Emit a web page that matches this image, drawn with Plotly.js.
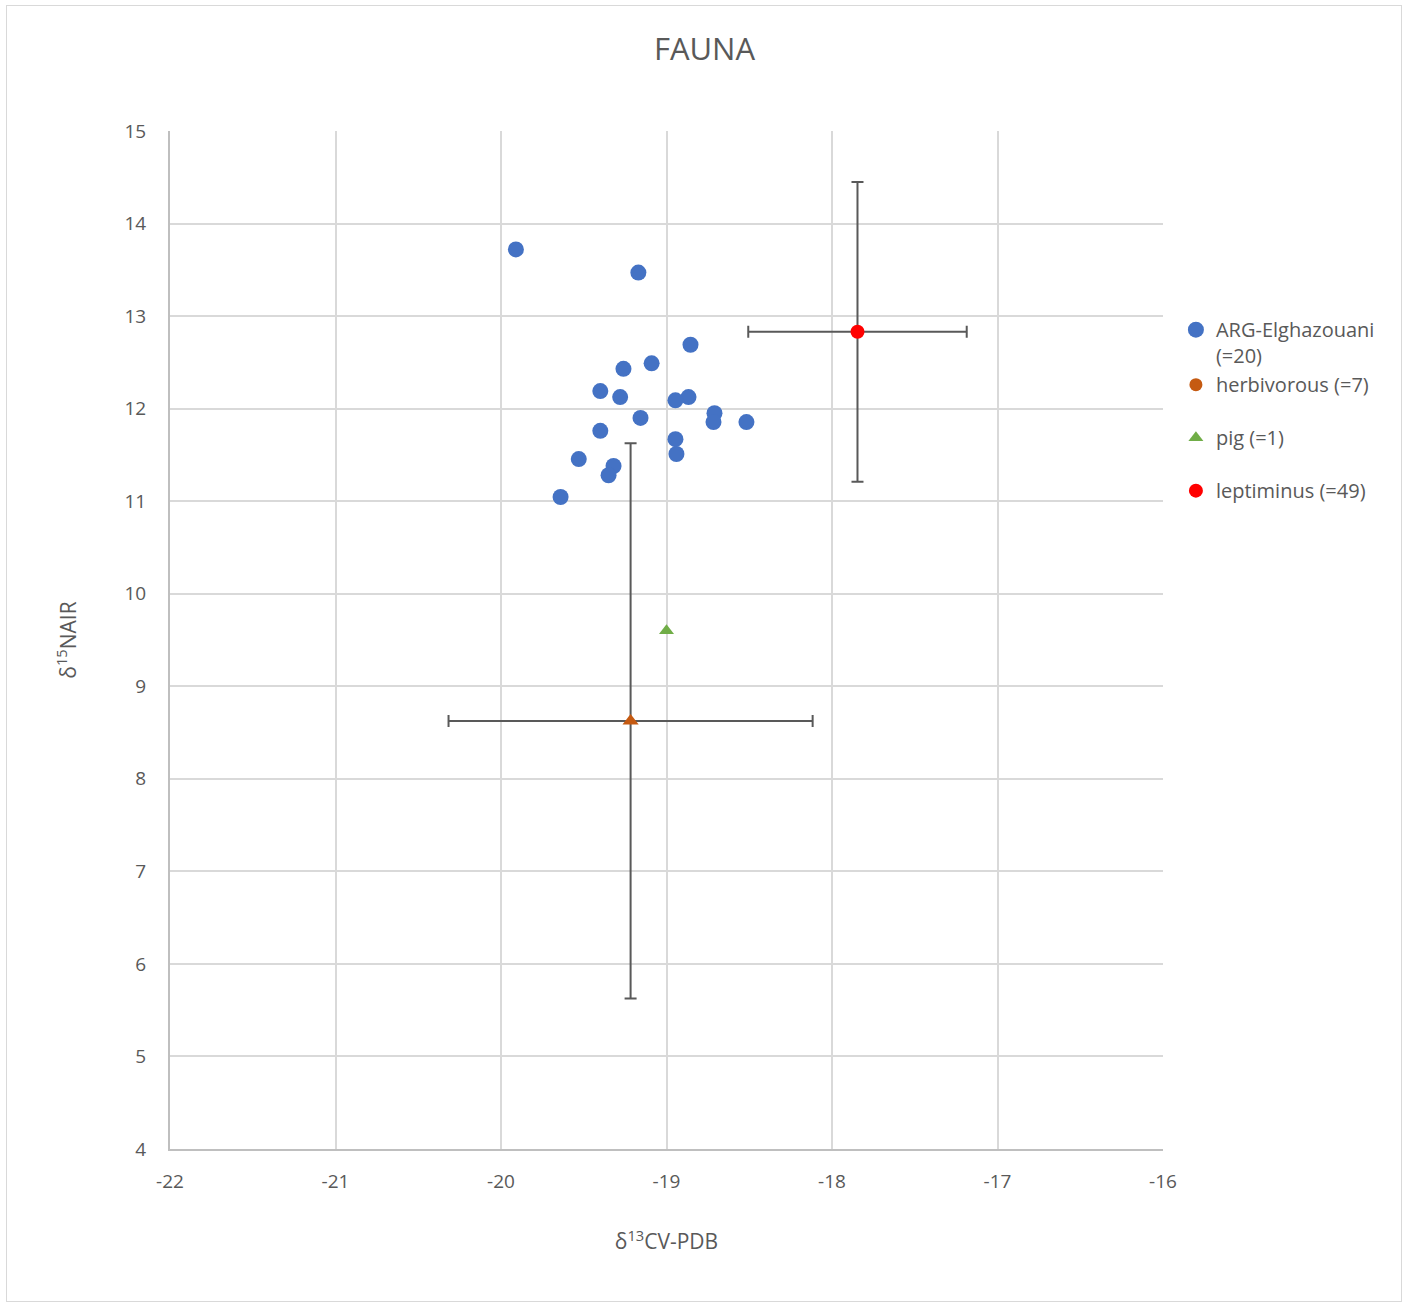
<!DOCTYPE html>
<html>
<head>
<meta charset="utf-8">
<script src="https://cdn.plot.ly/plotly-3.0.1.min.js"></script>
<style>
html,body{margin:0;padding:0;background:#fff;}
#wrap{position:relative;width:1409px;height:1305px;}
#chart{position:absolute;left:0;top:0;width:1409px;height:1305px;}
#frame{position:absolute;left:6px;top:5px;width:1396px;height:1297px;border:1.5px solid #d9d9d9;pointer-events:none;box-sizing:border-box;}
</style>
</head>
<body>
<div id="wrap"><div id="chart"></div><div id="frame"></div></div>
<script>
// ARG-Elghazouani (n=20)
const argX = [-19.91,-19.17,-18.855,-19.09,-19.26,-19.40,-19.28,-18.867,-18.946,-18.71,-18.716,-18.517,-19.157,-19.40,-18.946,-18.94,-19.53,-19.32,-19.35,-19.64];
const argY = [13.72,13.47,12.69,12.49,12.43,12.19,12.125,12.125,12.09,11.95,11.855,11.855,11.90,11.76,11.67,11.51,11.455,11.38,11.28,11.045];
// herbivorous (n=7): mean and SD
const herbX = [-19.217];
const herbY = [8.625];
const herbSDx = [1.10];
const herbSDy = [3.0];
// pig (n=1)
const pigX = [-19.0];
const pigY = [9.60];
// leptiminus (n=49): mean and SD
const leptX = [-17.846];
const leptY = [12.83];
const leptSDx = [0.66];
const leptSDy = [1.62];

const names = ['ARG-Elghazouani<br>(=20)','herbivorous (=7)','pig (=1)','leptiminus (=49)'];
const xTicks = [-22,-21,-20,-19,-18,-17,-16];
const yTicks = [4,5,6,7,8,9,10,11,12,13,14,15];

const ebColor = '#595959';
const traces = [
  {x:argX,y:argY,type:'scatter',mode:'markers',name:names[0],legendgroup:'a',
   marker:{color:'#4472c4',size:16,symbol:'circle'}},
  {x:herbX,y:herbY,type:'scatter',mode:'markers',name:names[1],showlegend:false,legendgroup:'a',
   marker:{color:'#c55a11',size:14,symbol:'triangle-up'},
   error_x:{type:'data',array:herbSDx,visible:true,color:ebColor,thickness:2,width:6},
   error_y:{type:'data',array:herbSDy,visible:true,color:ebColor,thickness:2,width:6}},
  {x:[null],y:[null],type:'scatter',mode:'markers',name:names[1],legendgroup:'a',
   marker:{color:'#c55a11',size:13,symbol:'circle'}},
  {x:pigX,y:pigY,type:'scatter',mode:'markers',name:names[2],legendgroup:'b',
   marker:{color:'#70ad47',size:13,symbol:'triangle-up'}},
  {x:leptX,y:leptY,type:'scatter',mode:'markers',name:names[3],legendgroup:'c',
   marker:{color:'#ff0000',size:14,symbol:'circle'},
   error_x:{type:'data',array:leptSDx,visible:true,color:ebColor,thickness:2,width:6},
   error_y:{type:'data',array:leptSDy,visible:true,color:ebColor,thickness:2,width:6}}
];

const layout = {
  width:1409,height:1305,
  margin:{l:170,r:246,t:131,b:156},
  paper_bgcolor:'#fff',plot_bgcolor:'#fff',
  font:{family:'Open Sans, Liberation Sans, sans-serif',color:'#595959',size:18},
  title:{text:'FAUNA',font:{size:31,color:'#595959'},x:0.5,xanchor:'center',y:0.962,yanchor:'middle'},
  xaxis:{range:[-22,-16],tickvals:xTicks,ticktext:xTicks.map(String),
    showgrid:true,gridcolor:'#d9d9d9',gridwidth:2,zeroline:false,
    showline:true,linecolor:'#bfbfbf',linewidth:2,ticks:'',ticklabelstandoff:14,
    tickfont:{size:19,color:'#595959'},
    title:{text:'δ<sup>13</sup>CV-PDB',font:{size:21,color:'#595959'},standoff:42}},
  yaxis:{range:[4,15],tickvals:yTicks,ticktext:yTicks.map(String),
    showgrid:true,gridcolor:'#d9d9d9',gridwidth:2,zeroline:false,
    showline:true,linecolor:'#bfbfbf',linewidth:2,ticks:'',ticklabelstandoff:18,
    tickfont:{size:19,color:'#595959'},
    title:{text:'δ<sup>15</sup>NAIR',font:{size:21,color:'#595959'},standoff:42}},
  showlegend:true,
  legend:{x:1.013,xanchor:'left',y:0.824,yanchor:'top',valign:'top',font:{size:20,color:'#595959'},
    itemwidth:30,tracegroupgap:24,traceorder:'grouped',bgcolor:'rgba(0,0,0,0)',borderwidth:0}
};

Plotly.newPlot('chart',traces,layout,{displayModeBar:false,staticPlot:true});
</script>
</body>
</html>
